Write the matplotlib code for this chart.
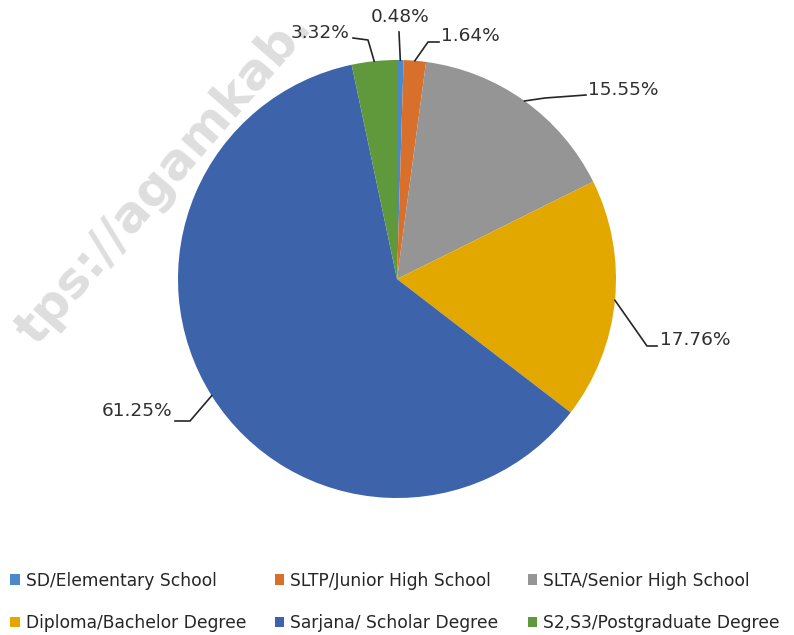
import matplotlib.pyplot as plt
from matplotlib.patches import Patch
import numpy as np

# data
categories = ["SD/Elementary School", "SLTP/Junior High School", "SLTA/Senior High School",
              "Diploma/Bachelor Degree", "Sarjana/ Scholar Degree", "S2,S3/Postgraduate Degree"]
shares = [0.48, 1.64, 15.55, 17.76, 61.25, 3.32]
colors = ["#4a88c7", "#d8702b", "#959595", "#e2a800", "#3d64aa", "#5f993b"]

W, H = 794, 635
cx, cy, r = 397, 279, 219  # pie centre / radius in pixels (top origin)

# label layout: (text x, text y, ha, elbow points) in pixels, top origin
label_layout = [
    (400, 17, "center", [(399, 32)]),
    (441, 36, "left", [(428, 42), (439, 42)]),
    (588, 90, "left", [(545, 98), (586, 95)]),
    (660, 340, "left", [(647, 346), (657, 346)]),
    (172, 411, "right", [(190, 421), (175, 421)]),
    (350, 33, "right", [(368, 40), (353, 38)]),
]

fig = plt.figure(figsize=(W / 100, H / 100), dpi=100)
ax = fig.add_axes([0, 0, 1, 1])


def flip(y):
    return H - y


# watermark (partly hidden behind the pie, as in the source)
ax.text(164, flip(178), "tps://agamkab.", rotation=49, fontsize=36, fontweight="bold",
        color="#dedede", ha="center", va="center", zorder=0)

wedges, _ = ax.pie(shares, colors=colors, startangle=90, counterclock=False,
                   center=(cx, flip(cy)), radius=r, frame=True,
                   wedgeprops=dict(linewidth=0))
ax.set_xlim(0, W)
ax.set_ylim(0, H)
ax.set_aspect("equal")
ax.axis("off")

for w, val, (tx, ty, ha, elbows) in zip(wedges, shares, label_layout):
    ang = np.deg2rad((w.theta1 + w.theta2) / 2)
    ax_x = cx + r * np.cos(ang)
    ax_y = flip(cy) + r * np.sin(ang)
    xs = [ax_x] + [p[0] for p in elbows]
    ys = [ax_y] + [flip(p[1]) for p in elbows]
    ax.plot(xs, ys, color="#262626", lw=1.2, zorder=3)
    ax.text(tx, flip(ty), f"{val:.2f}%", ha=ha, va="center", fontsize=13.3,
            color="#303030", zorder=4)

# legend filled row by row (matplotlib fills column by column)
handles = [Patch(facecolor=c, edgecolor="none") for c in colors]
order = [0, 3, 1, 4, 2, 5]
fig.legend([handles[i] for i in order], [categories[i] for i in order], ncol=3,
           loc="lower left", bbox_to_anchor=(0.0, -0.012),
           frameon=False, fontsize=12.3, handlelength=0.55, handleheight=0.55,
           handletextpad=0.35, columnspacing=1.7, labelspacing=1.45,
           borderaxespad=0.2, labelcolor="#262626")

fig.savefig("out.png", dpi=100)
